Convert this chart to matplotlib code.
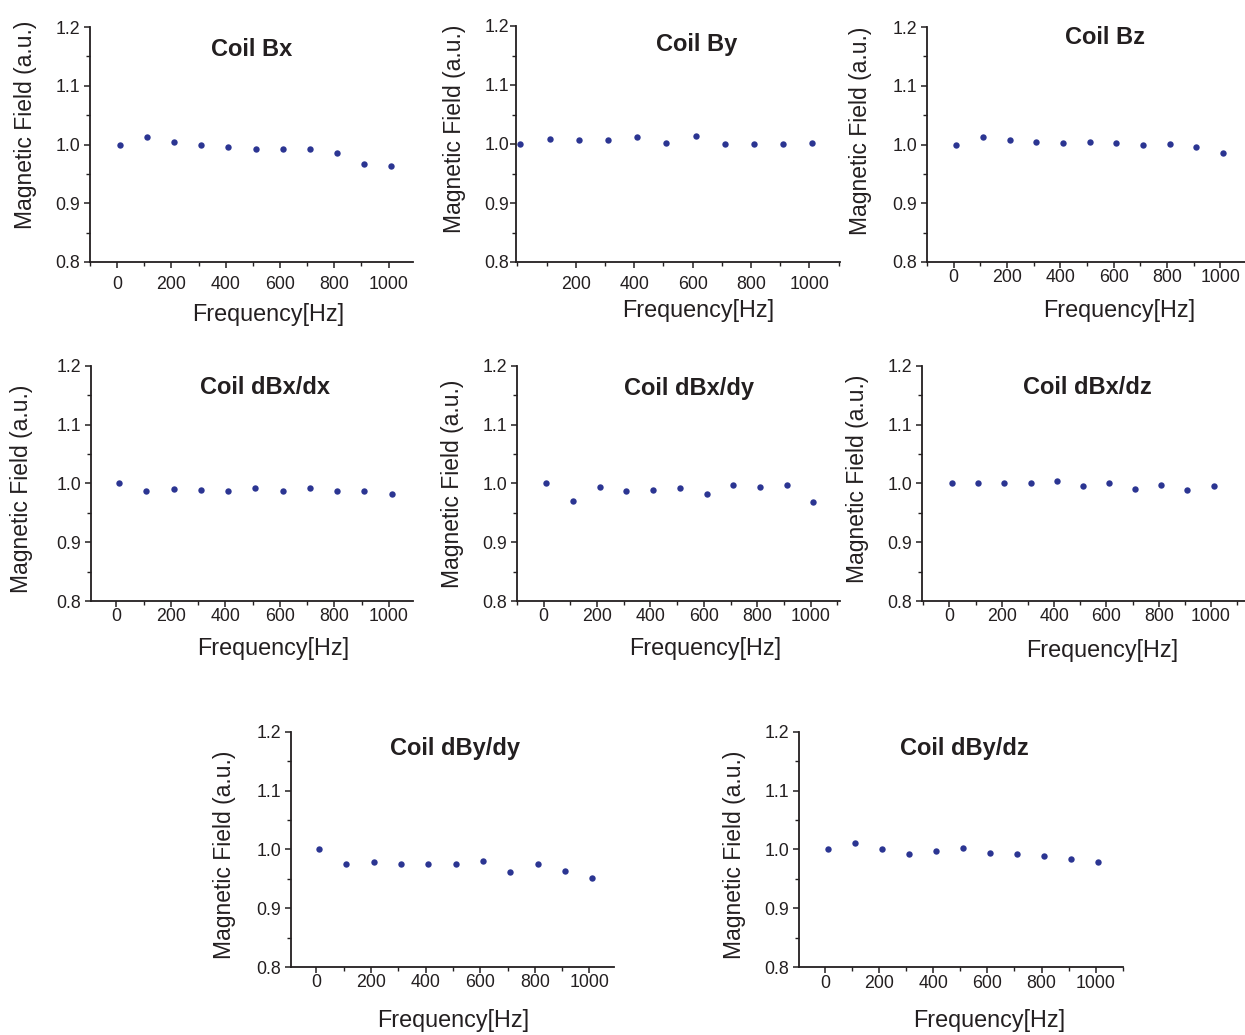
import matplotlib
matplotlib.use("Agg")
import matplotlib.pyplot as plt
from matplotlib.ticker import MultipleLocator, FixedLocator

plt.rcParams['font.family'] = ['Liberation Sans', 'DejaVu Sans']

# Measurement frequencies (Hz)
freq = [10, 110, 210, 310, 410, 510, 610, 710, 810, 910, 1010]

# Normalised field amplitude for each coil
coil_bx = [1.000, 1.012, 1.005, 1.000, 0.996, 0.993, 0.992, 0.993, 0.986, 0.967, 0.964]
coil_by = [1.000, 1.009, 1.007, 1.007, 1.012, 1.001, 1.013, 1.000, 1.000, 1.000, 1.001]
coil_bz = [1.000, 1.013, 1.008, 1.005, 1.002, 1.005, 1.002, 1.000, 1.001, 0.996, 0.986]
coil_dbx_dx = [1.000, 0.988, 0.990, 0.989, 0.988, 0.993, 0.988, 0.993, 0.988, 0.988, 0.982]
coil_dbx_dy = [1.000, 0.970, 0.994, 0.988, 0.989, 0.992, 0.982, 0.998, 0.994, 0.998, 0.969]
coil_dbx_dz = [1.000, 1.001, 1.000, 1.000, 1.004, 0.996, 1.000, 0.990, 0.998, 0.989, 0.996]
coil_dby_dy = [1.000, 0.975, 0.978, 0.976, 0.976, 0.976, 0.980, 0.961, 0.976, 0.963, 0.952]
coil_dby_dz = [1.000, 1.011, 1.001, 0.992, 0.997, 1.003, 0.994, 0.992, 0.989, 0.984, 0.978]

titles = ["Coil Bx", "Coil By", "Coil Bz", "Coil dBx/dx", "Coil dBx/dy",
          "Coil dBx/dz", "Coil dBy/dy", "Coil dBy/dz"]
series = [coil_bx, coil_by, coil_bz, coil_dbx_dx, coil_dbx_dy,
          coil_dbx_dz, coil_dby_dy, coil_dby_dz]

y_ticks = [0.8, 0.9, 1.0, 1.1, 1.2]
y_ticklabels = ["0.8", "0.9", "1.0", "1.1", "1.2"]
x_ticks = [0, 200, 400, 600, 800, 1000]
x_ticks_by = [200, 400, 600, 800, 1000]

W, H = 1245, 1035
fig = plt.figure(figsize=(W / 100, H / 100), dpi=100)

# panel layout in pixels: left, right, top, bottom, xlim, title centre (x, y),
# ylabel centre (x px, y frac), xlabel centre (x px, y px), x tick pad
layout = [
    (90, 413, 27, 262, (-100, 1090), (252, 50), (26, 0.583), (268, 314), 6),
    (516, 840, 26, 262, (-5, 1105), (697, 45), (455, 0.565), (698, 310), 6),
    (927, 1245, 27, 262, (-100, 1092), (1105, 38), (860, 0.557), (1119, 310), 1),
    (91, 413, 366, 601, (-93, 1088), (265, 388), (22, 0.477), (273, 649), 1),
    (517, 840, 366, 601, (-100, 1110), (689, 388), (452, 0.500), (705, 648), 1),
    (922, 1245, 366, 601, (-105, 1130), (1087, 388), (858, 0.520), (1102, 651), 1),
    (291, 614, 732, 967, (-93, 1090), (455, 749), (224, 0.479), (453, 1021), 1),
    (799, 1123, 732, 967, (-96, 1101), (964, 749), (734, 0.479), (989, 1021), 2),
]

ink = '#231f20'
dot = '#2b3592'

for i, (vals, title, lay) in enumerate(zip(series, titles, layout)):
    l, r, t, b, xlim, tpos, ylpos, xlpos, xpad = lay
    ax = fig.add_axes([l / W, 1 - b / H, (r - l) / W, (b - t) / H])
    ax.plot(freq, vals, 'o', color=dot, markersize=4.6, markeredgewidth=0)
    ax.set_xlim(*xlim)
    ax.set_ylim(0.8, 1.2)
    for s in ('top', 'right'):
        ax.spines[s].set_visible(False)
    for s in ('left', 'bottom'):
        ax.spines[s].set_linewidth(1.3)
        ax.spines[s].set_color(ink)
    ax.set_yticks(y_ticks)
    ax.set_yticklabels(y_ticklabels)
    ax.yaxis.set_minor_locator(FixedLocator([0.85, 0.95, 1.05, 1.15]))
    if i == 1:
        ax.set_xticks(x_ticks_by)
    else:
        ax.set_xticks(x_ticks)
    ax.xaxis.set_minor_locator(MultipleLocator(100))
    ax.tick_params(which='major', direction='out', length=4, width=1.1,
                   color=ink, labelsize=12.8, labelcolor=ink)
    ax.tick_params(which='minor', direction='out', length=3, width=1.0, color=ink)
    ax.tick_params(axis='x', which='major', pad=xpad)
    ax.tick_params(axis='y', which='major', pad=1 if i == 1 else 3)
    ax.text((tpos[0] - l) / (r - l), (b - tpos[1]) / (b - t), title,
            transform=ax.transAxes, ha='center', va='center',
            fontsize=17, fontweight='bold', color=ink)
    ax.set_ylabel("Magnetic Field (a.u.)", fontsize=16.5, color=ink)
    ax.yaxis.set_label_coords((ylpos[0] - l) / (r - l), ylpos[1])
    ax.set_xlabel("Frequency[Hz]", fontsize=16.8, color=ink)
    ax.xaxis.set_label_coords((xlpos[0] - l) / (r - l), -(xlpos[1] - b) / (b - t))
    ax.xaxis.label.set_va('center')
    ax.yaxis.label.set_va('center')

fig.savefig("out.png", dpi=100, facecolor='white')
